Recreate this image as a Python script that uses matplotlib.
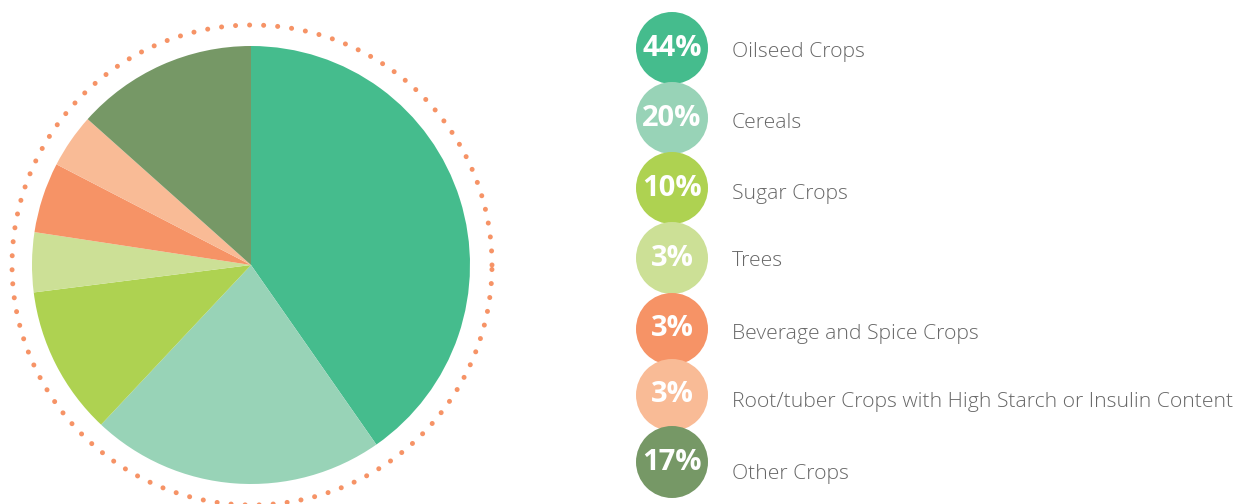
import matplotlib.pyplot as plt
import numpy as np

# data
labels = ['Oilseed Crops', 'Cereals', 'Sugar Crops', 'Trees', 'Beverage and Spice Crops',
          'Root/tuber Crops with High Starch or Insulin Content', 'Other Crops']
pct_labels = ['44%', '20%', '10%', '3%', '3%', '3%', '17%']
# slice sizes as drawn in the picture
slice_sizes = [40.3, 21.7, 11.0, 4.4, 5.2, 4.0, 13.4]
colors = ['#45bc8d', '#98d3b7', '#aed251', '#cce096', '#f69366', '#f9bb96', '#769866']

W, H = 1238, 504
fig = plt.figure(figsize=(W / 100, H / 100), dpi=100)
ax = fig.add_axes([0, 0, 1, 1])

# pie
cx, cy, r = 251, H - 265, 219
ax.pie(slice_sizes, colors=colors, startangle=90, counterclock=False,
       center=(cx, cy), radius=r, wedgeprops=dict(linewidth=0))

# dotted ring
t = np.linspace(0, 2 * np.pi, 400)
ax.plot(cx + 1 + 240 * np.cos(t), cy + 240 * np.sin(t), color='#f69366',
        linewidth=3.6, linestyle=(0, (0.01, 2.8)), dash_capstyle='round')

# legend circles
circ_y = [48, 118, 188, 258, 329, 395, 462]
text_y = [50, 120, 192, 259, 331, 400, 472]
for i in range(len(labels)):
    ax.add_patch(plt.Circle((672, H - circ_y[i]), 36, color=colors[i], linewidth=0))
    ax.text(672, H - circ_y[i], pct_labels[i], ha='center', va='center', color='white',
            fontsize=21, fontweight='bold', family='Open Sans')
    ax.text(732, H - text_y[i] - 7.5, labels[i], ha='left', va='baseline', color='#676767',
            fontsize=15.2, family='Open Sans', fontweight='light')

ax.set_xlim(0, W)
ax.set_ylim(0, H)
ax.set_aspect('equal')
ax.axis('off')

plt.savefig('out.png', dpi=100)
